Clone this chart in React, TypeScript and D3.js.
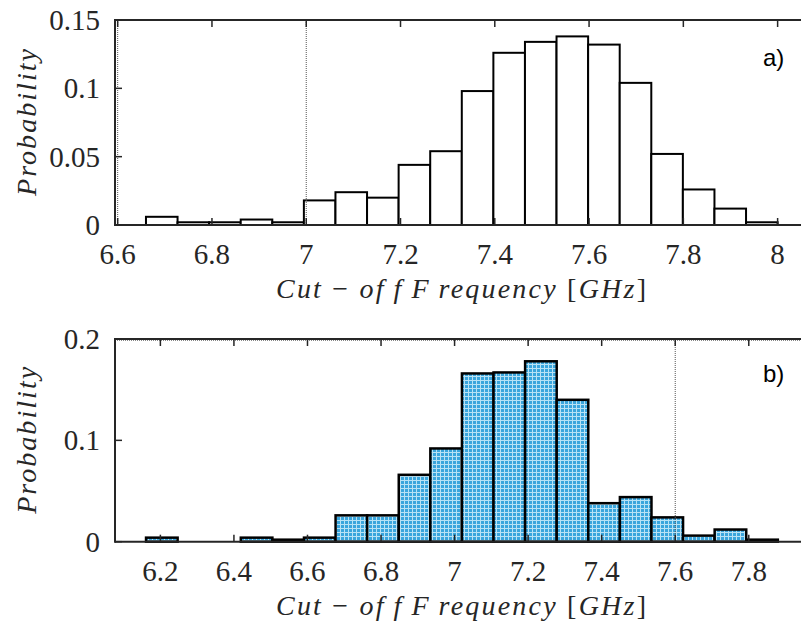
import React from 'react';
import * as d3 from 'd3';

// Histogram probabilities (20 equal-width bins per panel)
const panelAProb = [
  0.006, 0.002, 0.002, 0.004, 0.002, 0.018, 0.024, 0.02, 0.044, 0.054,
  0.098, 0.126, 0.134, 0.138, 0.132, 0.104, 0.052, 0.026, 0.012, 0.002,
];
const panelABinRange = [6.66, 8.0];
const panelBProb = [
  0.004, 0, 0, 0.004, 0.002, 0.004, 0.026, 0.026, 0.066, 0.092,
  0.166, 0.167, 0.178, 0.14, 0.038, 0.044, 0.024, 0.006, 0.012, 0.002,
];
const panelBBinRange = [6.161, 7.879];

// Axis limits and ticks
const panelAXLim = [6.5943, 8.0496];
const panelAYLim = [0, 0.15];
const panelAXTicks = [6.6, 6.8, 7, 7.2, 7.4, 7.6, 7.8, 8];
const panelAYTicks = [0, 0.05, 0.1, 0.15];
const panelAMarkers = [6.6, 7.0];

const panelBXLim = [6.0766, 7.942];
const panelBYLim = [0, 0.2];
const panelBXTicks = [6.2, 6.4, 6.6, 6.8, 7, 7.2, 7.4, 7.6, 7.8];
const panelBYTicks = [0, 0.1, 0.2];
const panelBMarkers = [7.6];

const W = 801;
const H = 624;
const AXIS = '#262626';
const SERIF = 'Liberation Serif';
const THIN = '\u2009';

type PanelProps = {
  top: number;
  bottom: number;
  left: number;
  right: number;
  xLim: number[];
  yLim: number[];
  xTicks: number[];
  yTicks: number[];
  probs: number[];
  binRange: number[];
  markers: number[];
  hMarker?: boolean;
  fill: string;
  barStroke: number;
  tag: string;
  tagY: number;
};

function XLabel({ x, y }: { x: number; y: number }) {
  return (
    <text
      x={x}
      y={y}
      textAnchor="middle"
      fontFamily={SERIF}
      fontSize={28}
      fill={AXIS}
      textLength={370}
      lengthAdjust="spacing"
    >
      <tspan fontStyle="italic">Cut</tspan>
      <tspan> − </tspan>
      <tspan fontStyle="italic">{`of${THIN}f${THIN}F${THIN}requency`}</tspan>
      <tspan> [</tspan>
      <tspan fontStyle="italic">GHz</tspan>
      <tspan>]</tspan>
    </text>
  );
}

function Panel(p: PanelProps) {
  const x = d3.scaleLinear().domain(p.xLim).range([p.left, p.right]);
  const y = d3.scaleLinear().domain(p.yLim).range([p.bottom, p.top]);
  const n = p.probs.length;
  const bw = (p.binRange[1] - p.binRange[0]) / n;
  const bins = p.probs.map((v, i) => ({
    x0: p.binRange[0] + i * bw,
    x1: p.binRange[0] + (i + 1) * bw,
    v,
  }));
  const tickLen = 7;
  const midY = (p.top + p.bottom) / 2;

  return (
    <g>
      {/* histogram bars */}
      {bins.map((b, i) => (
        <rect
          key={i}
          x={x(b.x0)}
          y={y(b.v)}
          width={x(b.x1) - x(b.x0)}
          height={y(0) - y(b.v)}
          fill={p.fill}
          stroke="#000"
          strokeWidth={p.barStroke}
        />
      ))}
      {/* dotted reference lines */}
      {p.markers.map((m) => (
        <line key={m} x1={x(m)} x2={x(m)} y1={p.top} y2={p.bottom} stroke="#555" strokeWidth={1} strokeDasharray="1 1" />
      ))}
      {p.hMarker && (
        <line x1={p.left} x2={p.right} y1={p.top + 1.5} y2={p.top + 1.5} stroke="#888" strokeWidth={1} strokeDasharray="1 1" />
      )}
      {/* axes box */}
      <line x1={p.left} x2={p.right} y1={p.bottom} y2={p.bottom} stroke={AXIS} strokeWidth={2} />
      <line x1={p.left} x2={p.right} y1={p.top} y2={p.top} stroke={AXIS} strokeWidth={2} />
      <line x1={p.left} x2={p.left} y1={p.top - 1} y2={p.bottom + 1} stroke={AXIS} strokeWidth={2} />
      {/* x ticks (bottom and mirrored top), pointing inward */}
      {p.xTicks.map((t) => (
        <g key={t}>
          <line x1={x(t)} x2={x(t)} y1={p.bottom} y2={p.bottom - tickLen} stroke={AXIS} strokeWidth={1.5} />
          <line x1={x(t)} x2={x(t)} y1={p.top} y2={p.top + tickLen} stroke={AXIS} strokeWidth={1.5} />
          <text x={x(t)} y={p.bottom + 39} textAnchor="middle" fontFamily={SERIF} fontSize={29} fill={AXIS}>
            {String(t)}
          </text>
        </g>
      ))}
      {/* y ticks */}
      {p.yTicks.map((t) => (
        <g key={t}>
          <line x1={p.left} x2={p.left + tickLen} y1={y(t)} y2={y(t)} stroke={AXIS} strokeWidth={1.5} />
          <text x={100} y={y(t) + 10} textAnchor="end" fontFamily={SERIF} fontSize={29} fill={AXIS}>
            {String(t)}
          </text>
        </g>
      ))}
      {/* axis labels */}
      <text
        transform={`translate(36,${midY}) rotate(-90)`}
        textAnchor="middle"
        fontFamily={SERIF}
        fontStyle="italic"
        fontSize={28}
        fill={AXIS}
        textLength={147}
        lengthAdjust="spacing"
      >
        Probability
      </text>
      <XLabel x={461} y={p.bottom + 73} />
      <text x={763} y={p.tagY} fontFamily="Liberation Sans" fontSize={24} fill="#000">
        {p.tag}
      </text>
    </g>
  );
}

export default function App() {
  return (
    <svg
      width={W}
      height={H}
      viewBox={`0 0 ${W} ${H}`}
      style={{ position: 'absolute', left: 0, top: 0, display: 'block', background: '#fff' }}
    >
      <defs>
        <pattern id="blueGrid" width={4} height={4} patternUnits="userSpaceOnUse">
          <rect width={4} height={4} fill="#3aa5dc" />
          <rect x={0} y={0} width={4} height={1} fill="#b8e2f5" />
          <rect x={0} y={0} width={1} height={4} fill="#b8e2f5" />
        </pattern>
      </defs>
      <rect width={W} height={H} fill="#fff" />
      <Panel
        top={20}
        bottom={225}
        left={115}
        right={801}
        xLim={panelAXLim}
        yLim={panelAYLim}
        xTicks={panelAXTicks}
        yTicks={panelAYTicks}
        probs={panelAProb}
        binRange={panelABinRange}
        markers={panelAMarkers}
        fill="#fff"
        barStroke={2}
        tag="a)"
        tagY={66}
      />
      <Panel
        top={339}
        bottom={541.7}
        left={115}
        right={801}
        xLim={panelBXLim}
        yLim={panelBYLim}
        xTicks={panelBXTicks}
        yTicks={panelBYTicks}
        probs={panelBProb}
        binRange={panelBBinRange}
        markers={panelBMarkers}
        hMarker
        fill="url(#blueGrid)"
        barStroke={2.5}
        tag="b)"
        tagY={382}
      />
    </svg>
  );
}
